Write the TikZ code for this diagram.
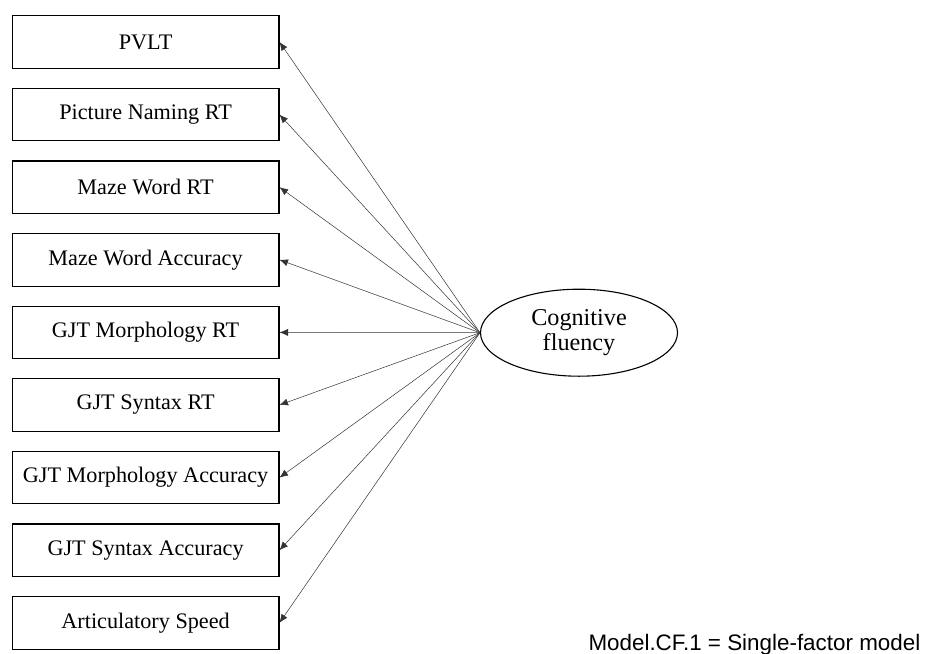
\documentclass[tikz,border=0pt]{standalone}
\usepackage{fontspec}
\setmainfont{Liberation Serif}
\newfontfamily\arialfont{Liberation Sans}
\usetikzlibrary{shapes.geometric,arrows.meta}
\begin{document}
\begin{tikzpicture}[x=1pt,y=-1pt,
  indbox/.style={draw=black,line width=1.1pt,minimum width=266.7pt,minimum height=52.5pt,inner sep=0pt,
    font=\fontsize{22.2}{25}\selectfont},
  latent/.style={draw=black,line width=1.1pt,ellipse,minimum width=197pt,minimum height=87pt,inner sep=0pt,
    align=center,font=\fontsize{24.2}{25}\selectfont},
  loading/.style={draw=black!80,line width=0.5pt,-{Latex[length=8.5pt,width=7pt]}}]
\useasboundingbox (0,0) rectangle (925,653);
\node[indbox] (b1) at (145.6,42.0) {PVLT};
\node[indbox] (b2) at (145.6,114.6) {Picture Naming RT};
\node[indbox] (b3) at (145.6,187.2) {Maze Word RT};
\node[indbox] (b4) at (145.6,259.8) {Maze Word Accuracy};
\node[indbox] (b5) at (145.6,332.4) {GJT Morphology RT};
\node[indbox] (b6) at (145.6,405.0) {GJT Syntax RT};
\node[indbox] (b7) at (145.6,477.6) {GJT Morphology Accuracy};
\node[indbox] (b8) at (145.6,550.2) {GJT Syntax Accuracy};
\node[indbox] (b9) at (145.6,622.8) {Articulatory Speed};
\node[latent] (cf) at (579,332.7) {Cognitive\\fluency};
\foreach \i in {1,...,9} {
  \draw[loading] (cf.west) -- (b\i.east);
}
\node[anchor=base east,inner sep=0pt,font=\arialfont\fontsize{22.4}{25}\selectfont] (note) at (920.5,650) {Model.CF.1 = Single-factor model};
\end{tikzpicture}
\end{document}
